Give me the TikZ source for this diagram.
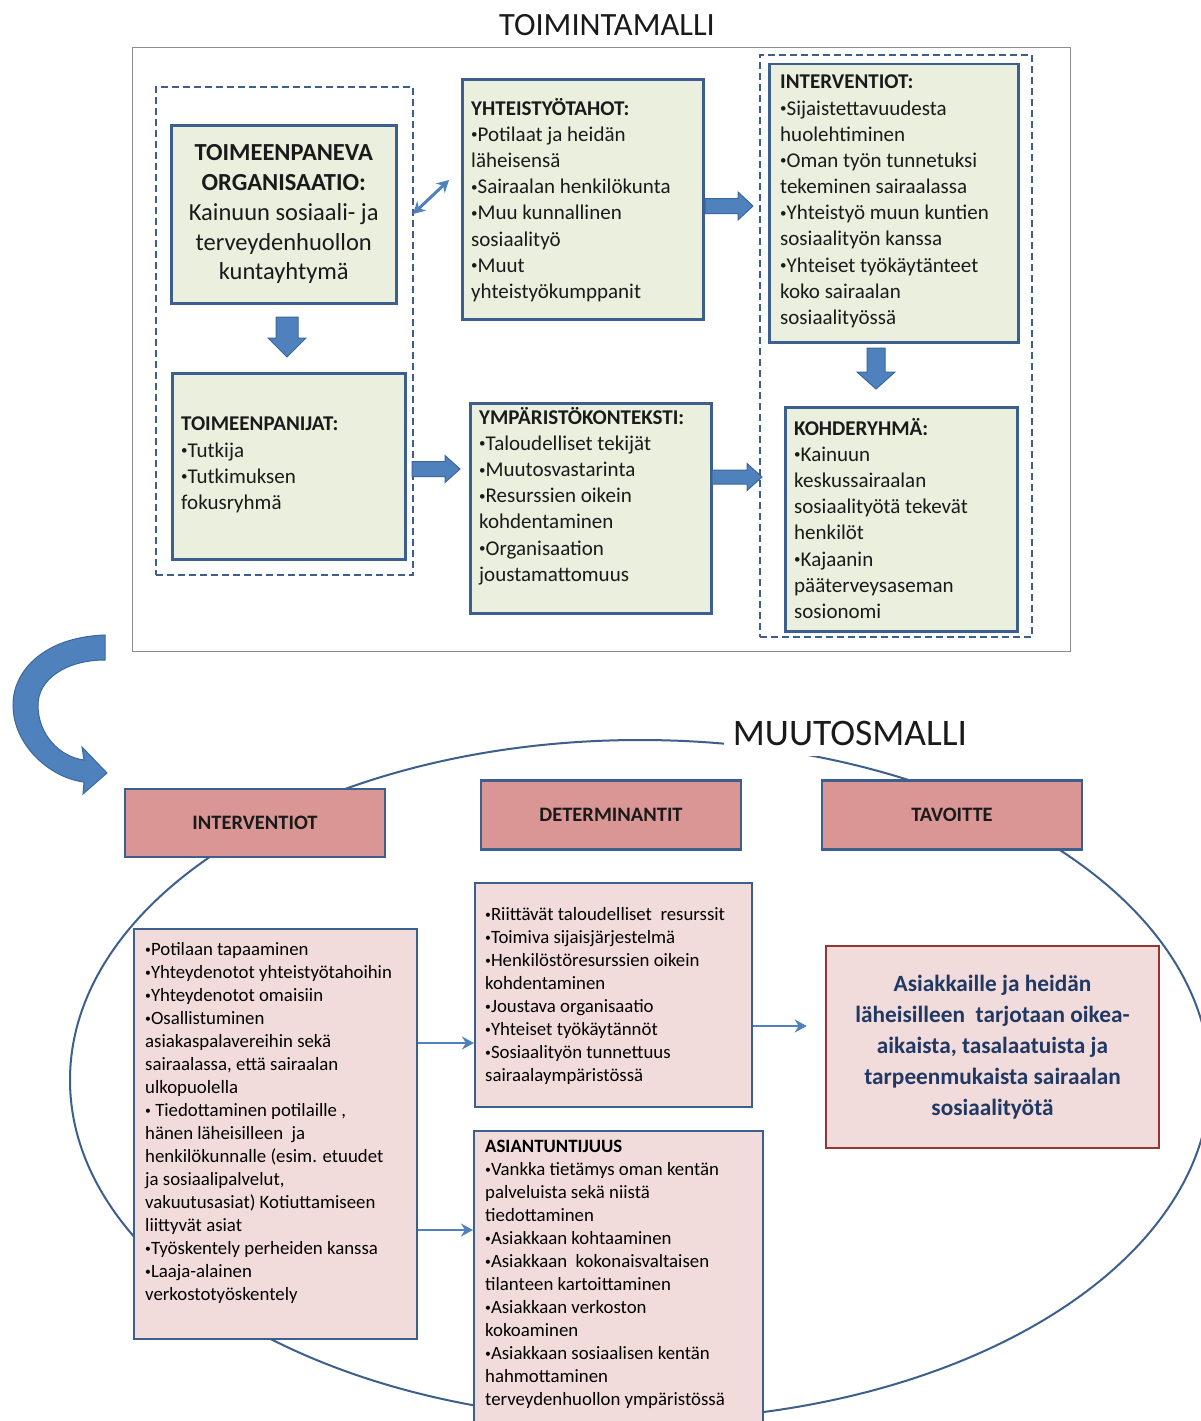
\documentclass[tikz,border=0pt]{standalone}
\usepackage{fontspec}
\setmainfont{Carlito}
\usetikzlibrary{arrows.meta}
\definecolor{bborder}{HTML}{3C5F8E}
\definecolor{gfill}{HTML}{EBEFDE}
\definecolor{afill}{HTML}{4F81BD}
\definecolor{aborder}{HTML}{3A679E}
\definecolor{hfill}{HTML}{D99695}
\definecolor{pfill}{HTML}{F2DCDB}
\definecolor{goalborder}{HTML}{963634}
\definecolor{goaltext}{HTML}{1F3864}
\definecolor{framegray}{HTML}{8C8C8C}
\definecolor{txtcol}{HTML}{1A1A1A}
\newcommand\bu{\raisebox{0.12em}{\scalebox{0.62}{\textbullet}}}
\newcommand\myharrow[6]{\filldraw[blockarrow] (#1,#2-#5) -- (#3,#2-#5) -- (#3,#2-#6) -- (#4,#2) -- (#3,#2+#6) -- (#3,#2+#5) -- (#1,#2+#5) -- cycle;}
\newcommand\myvarrow[6]{\filldraw[blockarrow] (#1-#5,#2) -- (#1-#5,#3) -- (#1-#6,#3) -- (#1,#4) -- (#1+#6,#3) -- (#1+#5,#3) -- (#1+#5,#2) -- cycle;}
\begin{document}
\begin{tikzpicture}[x=1pt,y=-1pt,
  gbox/.style={draw=bborder, line width=2.5pt, fill=gfill, inner sep=0pt, anchor=north west},
  dbox/.style={draw=bborder, line width=2.3pt, dash pattern=on 7pt off 4pt, inner sep=0pt, anchor=north west},
  frame/.style={draw=framegray, line width=1pt, inner sep=0pt, anchor=north west},
  topt/.style={font=\fontsize{21}{26.15}\selectfont, align=left, anchor=north west, inner sep=0pt, text=txtcol},
  hbox/.style={draw=bborder, line width=2.5pt, fill=hfill, inner sep=0pt, minimum width=260pt, minimum height=68pt, font=\fontsize{20.5}{24}\selectfont\bfseries, text=txtcol},
  pbox/.style={draw=bborder, line width=2.3pt, fill=pfill, inner sep=0pt, anchor=north west},
  bott/.style={font=\fontsize{18.8}{23}\selectfont, align=left, anchor=north west, inner sep=0pt, text=black},
  blockarrow/.style={fill=afill, draw=aborder, line width=1pt},
  thinarrow/.style={draw=afill, line width=2.5pt},
  ellipseline/.style={draw=bborder, line width=2pt}]
\useasboundingbox (0,0) rectangle (1200,1421);
\fill[white] (0,0) rectangle (1200,1421);

% ---------- TOIMINTAMALLI ----------
\node[font=\fontsize{32.5}{36}\selectfont, text=txtcol, inner sep=0pt] (title1) at (607,25) {TOIMINTAMALLI};
\node[frame, minimum width=938pt, minimum height=604pt] (frame) at (132,47) {};

\node[dbox, minimum width=257pt, minimum height=488pt] (dleft) at (155,86) {};
\node[dbox, minimum width=272pt, minimum height=582pt] (dright) at (759,54) {};

\node[gbox, minimum width=225pt, minimum height=178pt] (org) at (170,124) {};
\node[font=\fontsize{24.5}{29.8}\selectfont, align=center, inner sep=0pt, text=txtcol] (orgt) at (org.center)
  {\textbf{TOIMEENPANEVA}\\\textbf{ORGANISAATIO:}\\Kainuun sosiaali- ja\\terveydenhuollon\\kuntayhtymä};

\node[gbox, minimum width=233pt, minimum height=186pt] (panijat) at (171,372) {};
\node[topt] (panijatt) at (181,417) {\textbf{TOIMEENPANIJAT:}\\\bu Tutkija\\\bu Tutkimuksen\\fokusryhmä};

\node[gbox, minimum width=241pt, minimum height=240pt] (yht) at (461,78) {};
\node[topt] (yhtt) at (471,98) {\textbf{YHTEISTYÖTAHOT:}\\\bu Potilaat ja heidän\\läheisensä\\\bu Sairaalan henkilökunta\\\bu Muu kunnallinen\\sosiaalityö\\\bu Muut\\yhteistyökumppanit};

\node[gbox, minimum width=241pt, minimum height=210pt] (ymp) at (469,402) {};
\node[topt] (ympt) at (479,407) {\textbf{YMPÄRISTÖKONTEKSTI:}\\\bu Taloudelliset tekijät\\\bu Muutosvastarinta\\\bu Resurssien oikein\\kohdentaminen\\\bu Organisaation\\joustamattomuus};

\node[gbox, minimum width=249pt, minimum height=278pt] (int) at (768,63) {};
\node[topt] (intt) at (780,75) {\textbf{INTERVENTIOT:}\\\bu Sijaistettavuudesta\\huolehtiminen\\\bu Oman työn tunnetuksi\\tekeminen sairaalassa\\\bu Yhteistyö muun kuntien\\sosiaalityön kanssa\\\bu Yhteiset työkäytänteet\\koko sairaalan\\sosiaalityössä};

\node[gbox, minimum width=232pt, minimum height=224pt] (koh) at (784,406) {};
\node[topt] (koht) at (794,418) {\textbf{KOHDERYHMÄ:}\\\bu Kainuun\\keskussairaalan\\sosiaalityötä tekevät\\henkilöt\\\bu Kajaanin\\pääterveysaseman\\sosionomi};

% block arrows
\myvarrow{287}{317}{338}{357}{11}{19}
\myvarrow{876}{348}{372}{389}{9}{19}
\myharrow{705}{206}{738}{753}{7.5}{14}
\myharrow{412}{469}{445}{460}{7.5}{13.5}
\myharrow{712}{477}{747}{762}{7}{13.5}

\coordinate (da1) at (413,214);
\coordinate (da2) at (449,180);
\draw[thinarrow, line width=3pt, {Stealth[length=12pt,width=13pt]}-{Stealth[length=12pt,width=13pt]}] (da1) -- (da2);

% curved arrow
\filldraw[blockarrow] (105,635) .. controls (45,637) and (13,670) .. (13,705)
  .. controls (13,745) and (50,778) .. (84,782) -- (83,794) -- (107,773) -- (82,747) -- (84,760)
  .. controls (60,757) and (38,735) .. (38,705) .. controls (38,680) and (65,660) .. (105,660) -- cycle;

% ---------- MUUTOSMALLI ----------
\draw[ellipseline] (640,1080) ellipse [x radius=570pt, y radius=340pt];
\node[fill=white, minimum width=253pt, minimum height=45pt, inner sep=0pt, font=\fontsize{37.5}{40}\selectfont, text=txtcol] (title2) at (850,733) {MUUTOSMALLI};

\node[hbox] (hint) at (255,823) {INTERVENTIOT};
\node[hbox, minimum height=69pt] (hdet) at (611,815) {DETERMINANTIT};
\node[hbox, minimum height=69pt] (htav) at (952,815) {TAVOITTE};

\node[pbox, minimum width=283pt, minimum height=410pt] (lbox) at (133,928) {};
\node[bott] (lboxt) at (145,942) {\bu Potilaan tapaaminen\\\bu Yhteydenotot yhteistyötahoihin\\\bu Yhteydenotot omaisiin\\\bu Osallistuminen\\asiakaspalavereihin sekä\\sairaalassa, että sairaalan\\ulkopuolella\\\bu{} Tiedottaminen potilaille ,\\hänen läheisilleen \ ja\\henkilökunnalle (esim. etuudet\\ja sosiaalipalvelut,\\vakuutusasiat) Kotiuttamiseen\\liittyvät asiat\\\bu Työskentely perheiden kanssa\\\bu Laaja-alainen\\verkostotyöskentely};

\node[pbox, minimum width=277pt, minimum height=224pt] (mbox) at (474,882) {};
\node[bott] (mboxt) at (485,907) {\bu Riittävät taloudelliset \ resurssit\\\bu Toimiva sijaisjärjestelmä\\\bu Henkilöstöresurssien oikein\\kohdentaminen\\\bu Joustava organisaatio\\\bu Yhteiset työkäytännöt\\\bu Sosiaalityön tunnettuus\\sairaalaympäristössä};

\node[pbox, minimum width=289pt, minimum height=320pt] (abox) at (473,1130) {};
\node[bott] (aboxt) at (485,1140) {\textbf{ASIANTUNTIJUUS}\\\bu Vankka tietämys oman kentän\\palveluista sekä niistä\\tiedottaminen\\\bu Asiakkaan kohtaaminen\\\bu Asiakkaan \ kokonaisvaltaisen\\tilanteen kartoittaminen\\\bu Asiakkaan verkoston\\kokoaminen\\\bu Asiakkaan sosiaalisen kentän\\hahmottaminen\\terveydenhuollon ympäristössä};

\node[draw=goalborder, line width=2.5pt, fill=pfill, inner sep=0pt, minimum width=333pt, minimum height=202pt] (goal) at (992.5,1047) {};
\node[font=\fontsize{23.3}{31}\selectfont\bfseries, text=goaltext, align=center, inner sep=0pt] (goalt) at (goal.center)
  {Asiakkaille ja heidän\\läheisilleen \ tarjotaan oikea-\\aikaista, tasalaatuista ja\\tarpeenmukaista sairaalan\\sosiaalityötä};

\draw[thinarrow, -{Stealth[length=12pt,width=13pt]}] (lbox.east |- 0,1043) -- (mbox.west |- 0,1043);
\draw[thinarrow, -{Stealth[length=12pt,width=13pt]}] (lbox.east |- 0,1230) -- (abox.west |- 0,1230);
\draw[thinarrow, -{Stealth[length=12pt,width=13pt]}] (mbox.east |- 0,1026) -- ([xshift=-18pt]goal.west |- 0,1026);
\end{tikzpicture}
\end{document}
